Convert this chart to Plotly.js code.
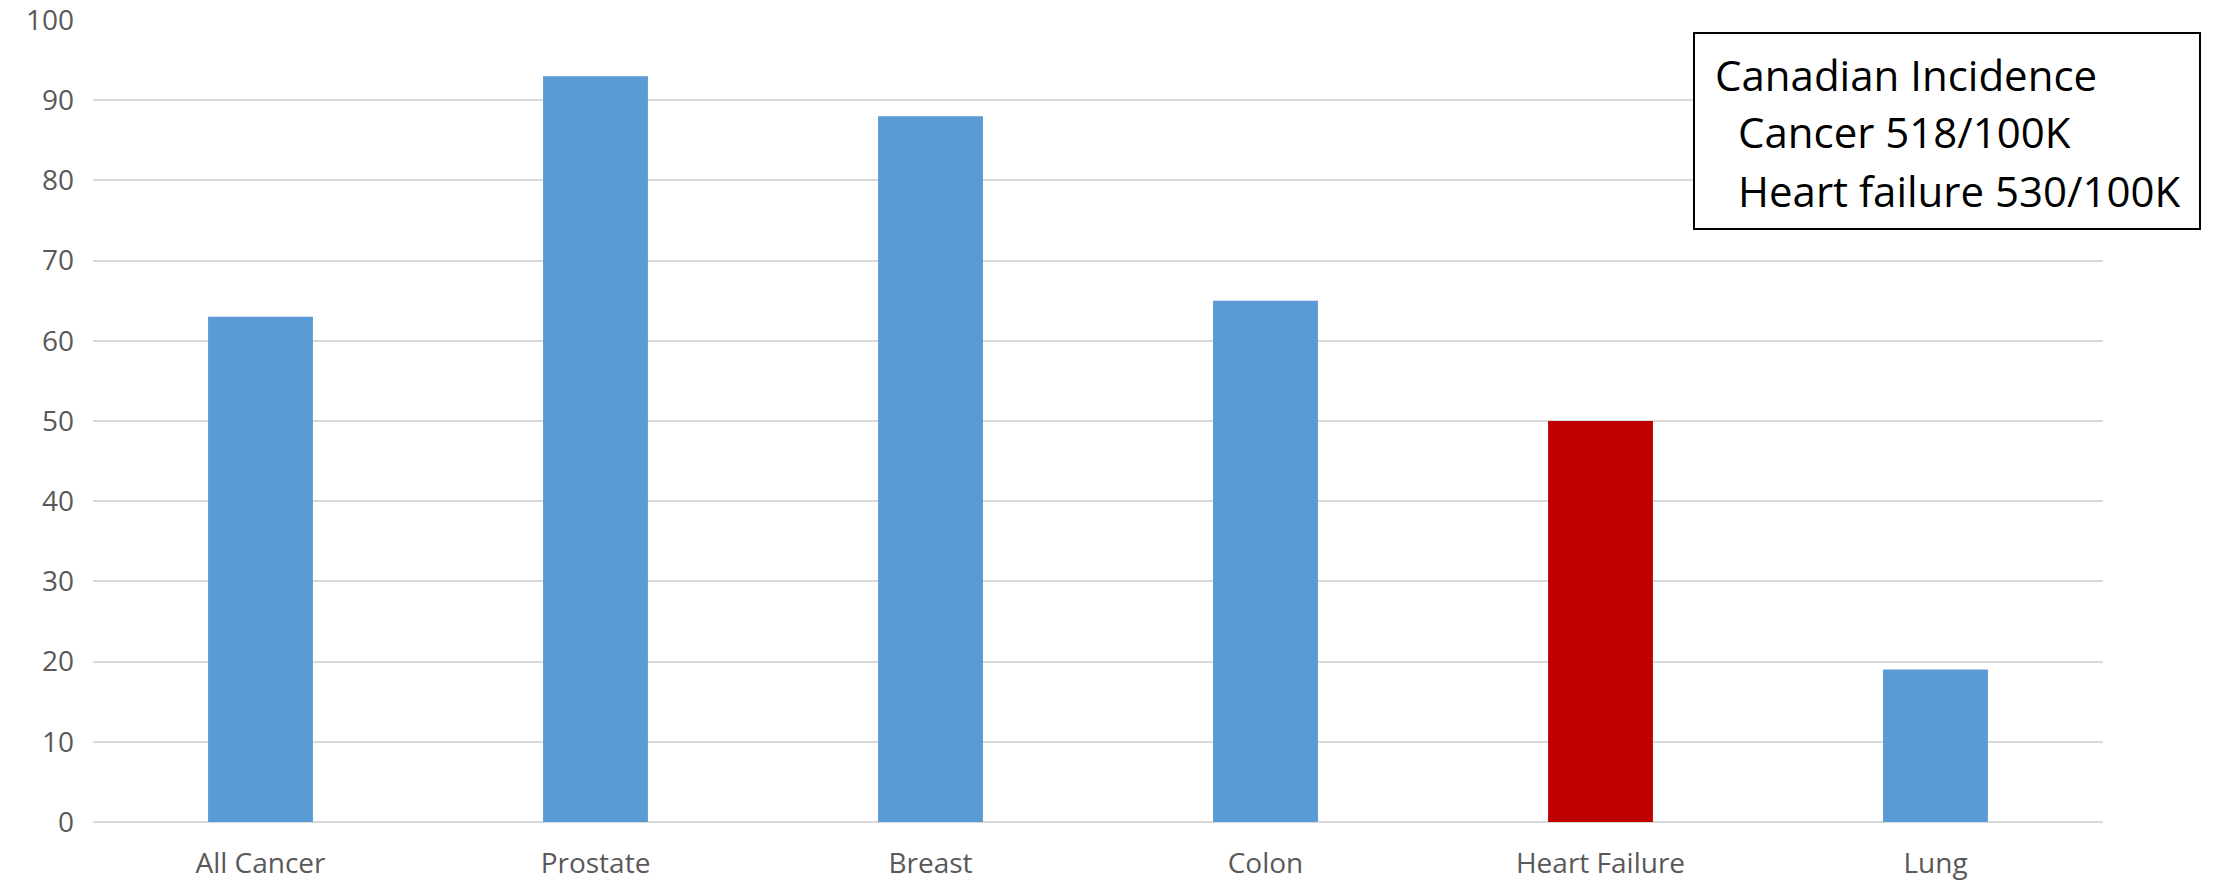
<!DOCTYPE html>
<html>
<head>
<meta charset="utf-8">
<script src="https://cdn.plot.ly/plotly-3.0.1.min.js"></script>
<style>
  html, body { margin: 0; padding: 0; background: #ffffff; }
  #chart { width: 2218px; height: 880px; }
</style>
</head>
<body>
<div id="chart"></div>
<script>
// Categories and survival-style percentages per category
const categories = ["All Cancer", "Prostate", "Breast", "Colon", "Heart Failure", "Lung"];
const values = [63, 93, 88, 65, 50, 19];
const barColors = ["#5B9BD5", "#5B9BD5", "#5B9BD5", "#5B9BD5", "#C00000", "#5B9BD5"];
const yTicks = [0, 10, 20, 30, 40, 50, 60, 70, 80, 90, 100];

// Text of the incidence note box
const noteLines = ["Canadian Incidence", "Cancer 518/100K", "Heart failure 530/100K"];

const W = 2218, H = 880;
const M = { l: 93, r: 115, t: 20, b: 58 };
const plotW = W - M.l - M.r, plotH = H - M.t - M.b;
// pixel -> paper helpers for the note box
const px = x => (x - M.l) / plotW;
const py = y => (H - M.b - y) / plotH;

const tickFont = { family: "Open Sans, Lato, sans-serif", size: 28, color: "#595959" };
const noteFont = { family: "Open Sans, Lato, sans-serif", size: 42, color: "#000000" };

const trace = {
  type: "bar",
  x: categories,
  y: values,
  marker: { color: barColors, line: { width: 0 } },
  hoverinfo: "x+y"
};

const noteX = [1713, 1736, 1736];
const noteY = [74, 132, 190];

const layout = {
  width: W,
  height: H,
  margin: M,
  paper_bgcolor: "#ffffff",
  plot_bgcolor: "#ffffff",
  showlegend: false,
  bargap: 0.687,
  xaxis: {
    type: "category",
    showgrid: false,
    zeroline: false,
    showline: false,
    ticks: "",
    tickfont: tickFont,
    ticklabelstandoff: 22,
    ticklabeloverflow: "allow"
  },
  yaxis: {
    range: [0, 100],
    tickvals: yTicks,
    showgrid: true,
    gridcolor: "#D9D9D9",
    gridwidth: 2,
    zeroline: true,
    zerolinecolor: "#D9D9D9",
    zerolinewidth: 2,
    showline: false,
    ticks: "",
    tickfont: tickFont,
    ticklabelstandoff: 18,
    ticklabeloverflow: "allow"
  },
  shapes: [{
    type: "rect",
    xref: "paper", yref: "paper",
    x0: px(1694), x1: px(2200),
    y0: py(229), y1: py(33),
    line: { color: "#000000", width: 2 },
    fillcolor: "#ffffff",
    layer: "above"
  }],
  annotations: noteLines.map((t, i) => ({
    text: t,
    xref: "paper", yref: "paper",
    x: px(noteX[i]), y: py(noteY[i]),
    xanchor: "left", yanchor: "middle",
    showarrow: false,
    font: noteFont,
    align: "left"
  }))
};

Plotly.newPlot("chart", [trace], layout, { staticPlot: true, displayModeBar: false });
</script>
</body>
</html>
